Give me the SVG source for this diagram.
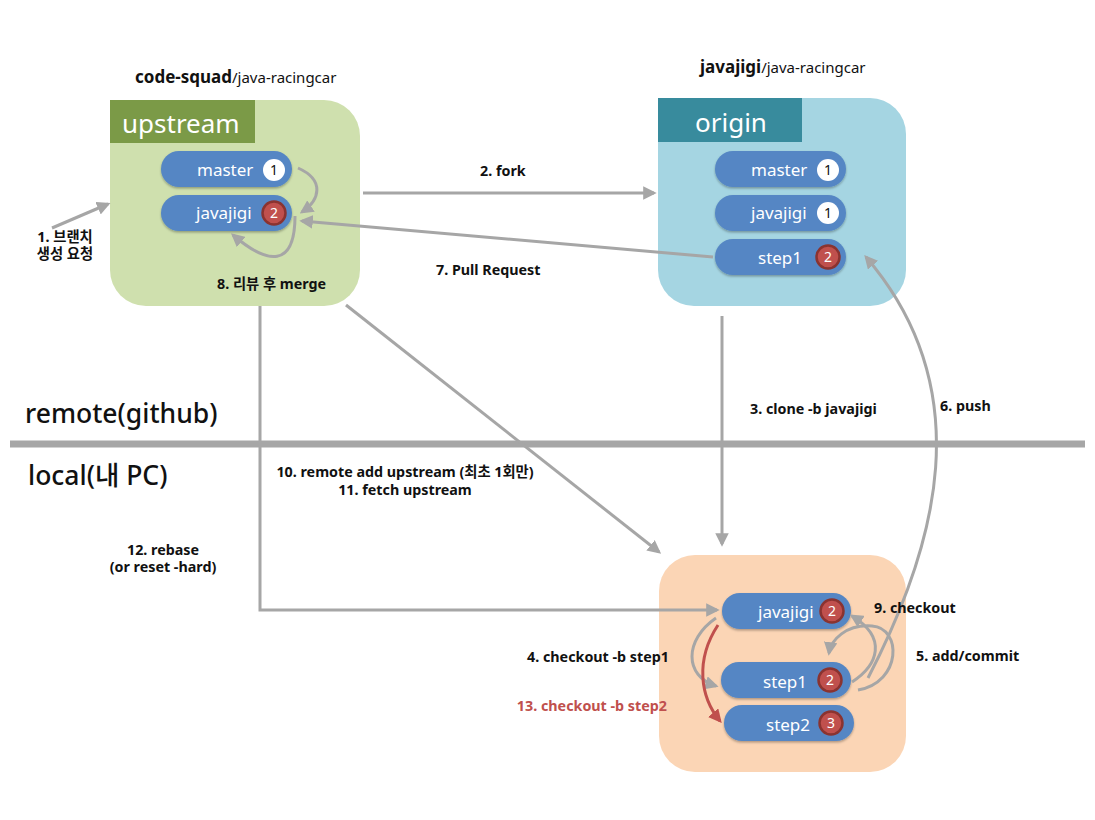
<svg xmlns="http://www.w3.org/2000/svg" width="1095" height="820" viewBox="0 0 1095 820">
<style>
text{font-family:"Noto Sans","Noto Sans CJK KR",sans-serif;}
.lbl{font-size:14.3px;font-weight:bold;fill:#111;}
.pill{fill:#5486c4;}
.pt{font-size:17px;fill:#fff;}
.bw{fill:#fff;}
.br{fill:#c0504d;stroke:#8a3330;stroke-width:2.5;}
.bt{font-size:14px;text-anchor:middle;}
.con{fill:none;stroke:#a6a6a6;stroke-width:3;}
.hdr{font-size:26px;fill:#fff;}
.ttl{font-size:17px;font-weight:bold;fill:#111;}
.ttl2{font-size:15px;font-weight:normal;}
.sec{font-size:26.5px;fill:#111;font-weight:500;}
</style>
<defs>
<marker id="ah" viewBox="0 0 10 10" refX="8" refY="5" markerWidth="4.5" markerHeight="4.5" orient="auto" markerUnits="strokeWidth">
<path d="M0,0 L10,5 L0,10 z" fill="#a6a6a6"/>
</marker>
<marker id="ahr" viewBox="0 0 10 10" refX="8" refY="5" markerWidth="4.5" markerHeight="4.5" orient="auto" markerUnits="strokeWidth">
<path d="M0,0 L10,5 L0,10 z" fill="#c0504d"/>
</marker>
<filter id="sh" x="-10%" y="-20%" width="120%" height="150%">
<feDropShadow dx="0" dy="1.5" stdDeviation="1.2" flood-color="#000" flood-opacity="0.3"/>
</filter>
</defs>

<!-- divider -->
<line x1="10" y1="444" x2="1085" y2="444" stroke="#a6a6a6" stroke-width="7"/>
<text x="25" y="423" class="sec">remote(github)</text>
<text x="28" y="485" class="sec">local(내 PC)</text>

<g id="upstream">
<rect x="110" y="100" width="250" height="206" rx="36" fill="#cfe0ae"/>
<path d="M110,100 H255 V143 H110 Z" fill="#7b9a47"/>
<text x="122" y="133" class="hdr">upstream</text>
<text x="135" y="83" class="ttl">code-squad<tspan class="ttl2">/java-racingcar</tspan></text>
<g filter="url(#sh)">
<rect x="161" y="151" width="131" height="36" rx="18" class="pill"/>
<rect x="161" y="195" width="131" height="36" rx="18" class="pill"/>
</g>
<text x="197" y="176" class="pt">master</text>
<circle cx="274" cy="170" r="11" class="bw"/>
<text x="274" y="175" class="bt" fill="#111">1</text>
<text x="196" y="219" class="pt">javajigi</text>
<circle cx="274" cy="213" r="11.5" class="br"/>
<text x="274" y="218" class="bt" fill="#fff">2</text>
</g>

<g id="origin">
<rect x="658" y="98" width="248" height="208" rx="36" fill="#a5d5e2"/>
<path d="M658,98 H802 V142 H658 Z" fill="#388b9d"/>
<text x="695" y="132" class="hdr">origin</text>
<text x="700" y="73" class="ttl">javajigi<tspan class="ttl2">/java-racingcar</tspan></text>
<g filter="url(#sh)">
<rect x="715" y="151" width="131" height="36" rx="18" class="pill"/>
<rect x="715" y="195" width="131" height="36" rx="18" class="pill"/>
<rect x="715" y="239" width="131" height="36" rx="18" class="pill"/>
</g>
<text x="751" y="176" class="pt">master</text>
<circle cx="828" cy="170" r="11" class="bw"/>
<text x="828" y="175" class="bt" fill="#111">1</text>
<text x="751" y="219" class="pt">javajigi</text>
<circle cx="828" cy="213" r="11" class="bw"/>
<text x="828" y="218" class="bt" fill="#111">1</text>
<text x="758" y="264" class="pt">step1</text>
<circle cx="828" cy="257" r="11.5" class="br"/>
<text x="828" y="262" class="bt" fill="#fff">2</text>
</g>

<g id="local">
<rect x="659" y="555" width="247" height="217" rx="36" fill="#fbd5b5"/>
<g filter="url(#sh)">
<rect x="722" y="593" width="129" height="36" rx="18" class="pill"/>
<rect x="721" y="662" width="130" height="36" rx="18" class="pill"/>
<rect x="724" y="705" width="130" height="36" rx="18" class="pill"/>
</g>
<text x="758" y="618" class="pt">javajigi</text>
<circle cx="832" cy="611" r="11.5" class="br"/>
<text x="832" y="616" class="bt" fill="#fff">2</text>
<text x="763" y="688" class="pt">step1</text>
<circle cx="830" cy="680" r="11.5" class="br"/>
<text x="830" y="685" class="bt" fill="#fff">2</text>
<text x="766" y="731" class="pt">step2</text>
<circle cx="831" cy="723" r="11.5" class="br"/>
<text x="831" y="728" class="bt" fill="#fff">3</text>
</g>

<g id="connectors">
<path class="con" d="M52,228 L108,204" marker-end="url(#ah)"/>
<path class="con" d="M363,193 L654,193" marker-end="url(#ah)"/>
<path class="con" d="M713,257 L302,221" marker-end="url(#ah)"/>
<path class="con" d="M298,168 C325,180 320,200 302,212" marker-end="url(#ah)"/>
<path class="con" d="M295,216 C295,268 268,265 233,235" marker-end="url(#ah)"/>
<path class="con" d="M260,306 V610 H717" marker-end="url(#ah)"/>
<path class="con" d="M346,305 L659,552" marker-end="url(#ah)"/>
<path class="con" d="M722,316 V544" marker-end="url(#ah)"/>
<path class="con" d="M868,678 C937,545 980,390 866,257" marker-end="url(#ah)"/>
<path class="con" d="M852,682 C878,665 888,638 852,616" marker-end="url(#ah)"/>
<path class="con" d="M858,690 C902,682 902,628 872,626 C846,624 831,640 829,653" marker-end="url(#ah)"/>
<path class="con" d="M716,618 C684,640 684,676 716,686" marker-end="url(#ah)"/>
<path d="M718,625 C695,660 700,697 720,721" fill="none" stroke="#c0504d" stroke-width="3" marker-end="url(#ahr)"/>
</g>

<g id="labels">
<text x="65" y="242" class="lbl" text-anchor="middle">1. 브랜치</text>
<text x="65" y="259" class="lbl" text-anchor="middle">생성 요청</text>
<text x="480" y="176" class="lbl">2. fork</text>
<text x="436" y="275" class="lbl">7. Pull Request</text>
<text x="217" y="289" class="lbl">8. 리뷰 후 merge</text>
<text x="750" y="414" class="lbl">3. clone -b javajigi</text>
<text x="940" y="411" class="lbl">6. push</text>
<text x="405" y="477" class="lbl" text-anchor="middle">10. remote add upstream (최초 1회만)</text>
<text x="405" y="495" class="lbl" text-anchor="middle">11. fetch upstream</text>
<text x="163" y="555" class="lbl" text-anchor="middle">12. rebase</text>
<text x="163" y="572" class="lbl" text-anchor="middle">(or reset -hard)</text>
<text x="874" y="613" class="lbl">9. checkout</text>
<text x="916" y="661" class="lbl">5. add/commit</text>
<text x="669" y="662" class="lbl" text-anchor="end">4. checkout -b step1</text>
<text x="667" y="711" class="lbl" text-anchor="end" style="fill:#c0504d">13. checkout -b step2</text>
</g>
</svg>
